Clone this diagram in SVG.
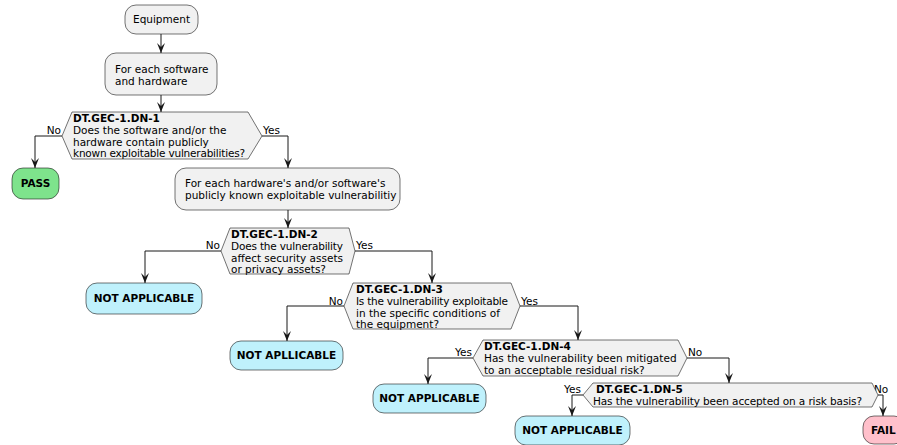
<svg xmlns="http://www.w3.org/2000/svg" width="897" height="445" viewBox="0 0 897 445">
  <defs>
    <marker id="arr" viewBox="0 0 10 10" refX="10" refY="5" markerWidth="10" markerHeight="10" markerUnits="userSpaceOnUse" orient="auto">
      <path d="M0,1 L10,5 L0,9 L4,5 Z" fill="#181818"/>
    </marker>
    <style>
      .box { fill: #F1F1F1; stroke: #181818; stroke-width: 0.6; }
      .pass { fill: #7EE38C; stroke: #181818; stroke-width: 0.6; }
      .na { fill: #BFF1FC; stroke: #181818; stroke-width: 0.6; }
      .fail { fill: #FFC0CB; stroke: #181818; stroke-width: 0.6; }
      .dec { fill: #F1F1F1; stroke: #181818; stroke-width: 0.6; }
      text { font-family: "DejaVu Sans", "Liberation Sans", sans-serif; font-size: 10.5px; fill: #000; }
      .b { font-weight: bold; }
      .mid { text-anchor: middle; }
      .end { text-anchor: end; }
      .edge { fill: none; stroke: #181818; stroke-width: 1; marker-end: url(#arr); }
    </style>
  </defs>

  <!-- connectors -->
  <g id="connectors">
    <path class="edge" d="M161,34 L161,53"/>
    <path class="edge" d="M161,95 L161,112"/>
    <path class="edge" d="M62,136 L35,136 L35,168"/>
    <text class="end" x="61" y="134">No</text>
    <path class="edge" d="M262,136 L288,136 L288,168"/>
    <text x="263" y="134">Yes</text>
    <path class="edge" d="M288,210 L288,228"/>
    <path class="edge" d="M221,251 L145,251 L145,283"/>
    <text class="end" x="220" y="249">No</text>
    <path class="edge" d="M355,251 L432,251 L432,283"/>
    <text x="356" y="249">Yes</text>
    <path class="edge" d="M344,306 L287,306 L287,341"/>
    <text class="end" x="343" y="305">No</text>
    <path class="edge" d="M520,306 L578,306 L578,340"/>
    <text x="521" y="305">Yes</text>
    <path class="edge" d="M473,358 L428,358 L428,384"/>
    <text class="end" x="472" y="356">Yes</text>
    <path class="edge" d="M687,358 L729,358 L729,383"/>
    <text x="688" y="356">No</text>
    <path class="edge" d="M583,395 L572,395 L572,416"/>
    <text class="end" x="581" y="393">Yes</text>
    <path class="edge" d="M878,395 L883,395 L883,416"/>
    <text x="874" y="393">No</text>
  </g>

  <g id="equipment">
    <rect class="box" x="125" y="5" width="73" height="29" rx="11"/>
    <text class="mid" x="161.5" y="23">Equipment</text>
  </g>

  <g id="each-item">
    <rect class="box" x="105" y="53" width="112" height="42" rx="11"/>
    <text x="115" y="73">For each software</text>
    <text x="115" y="85">and hardware</text>
  </g>

  <g id="dn1">
    <polygon class="dec" points="62,136 72,112 248,112 262,136 248,159 72,159"/>
    <text class="b" x="73" y="122">DT.GEC-1.DN-1</text>
    <text x="73" y="134">Does the software and/or the</text>
    <text x="73" y="145.5">hardware contain publicly</text>
    <text x="73" y="157" textLength="172">known exploitable vulnerabilities?</text>
  </g>

  <g id="pass">
    <rect class="pass" x="12" y="168" width="47" height="31" rx="11"/>
    <text class="mid b" x="35.5" y="187">PASS</text>
  </g>

  <g id="each-vuln">
    <rect class="box" x="175" y="168" width="225" height="42" rx="11"/>
    <text x="185" y="187">For each hardware's and/or software's</text>
    <text x="185" y="199">publicly known exploitable vulnerabilitiy</text>
  </g>

  <g id="dn2">
    <polygon class="dec" points="221,251 230,228 349,228 355,251 349,274 230,274"/>
    <text class="b" x="231" y="238">DT.GEC-1.DN-2</text>
    <text x="231" y="250" textLength="112">Does the vulnerability</text>
    <text x="231" y="261.5">affect security assets</text>
    <text x="231" y="273">or privacy assets?</text>
  </g>

  <g id="na1">
    <rect class="na" x="86" y="283" width="116" height="31" rx="11"/>
    <text class="mid b" x="144" y="302">NOT APPLICABLE</text>
  </g>

  <g id="dn3">
    <polygon class="dec" points="344,306 353,283 511,283 520,306 511,329 353,329"/>
    <text class="b" x="356" y="293">DT.GEC-1.DN-3</text>
    <text x="356" y="305" textLength="152">Is the vulnerability exploitable</text>
    <text x="356" y="316.5">in the specific conditions of</text>
    <text x="356" y="328">the equipment?</text>
  </g>

  <g id="na2">
    <rect class="na" x="230" y="341" width="113" height="29" rx="11"/>
    <text class="mid b" x="286.5" y="359">NOT APLLICABLE</text>
  </g>

  <g id="dn4">
    <polygon class="dec" points="473,358 483,340 678,340 687,358 678,376 483,376"/>
    <text class="b" x="484" y="350">DT.GEC-1.DN-4</text>
    <text x="484" y="362">Has the vulnerability been mitigated</text>
    <text x="484" y="373.5">to an acceptable residual risk?</text>
  </g>

  <g id="na3">
    <rect class="na" x="373" y="384" width="113" height="29" rx="11"/>
    <text class="mid b" x="429.5" y="402">NOT APPLICABLE</text>
  </g>

  <g id="dn5">
    <polygon class="dec" points="583,395 593,383 872,383 878,395 872,407 593,407"/>
    <text class="b" x="596" y="393">DT.GEC-1.DN-5</text>
    <text x="593" y="405" textLength="269">Has the vulnerability been accepted on a risk basis?</text>
  </g>

  <g id="na4">
    <rect class="na" x="515" y="416" width="115" height="29" rx="11"/>
    <text class="mid b" x="572.5" y="434">NOT APPLICABLE</text>
  </g>

  <g id="fail">
    <rect class="fail" x="863" y="416" width="42" height="28" rx="11"/>
    <text class="b" x="871" y="434">FAIL</text>
  </g>
</svg>
